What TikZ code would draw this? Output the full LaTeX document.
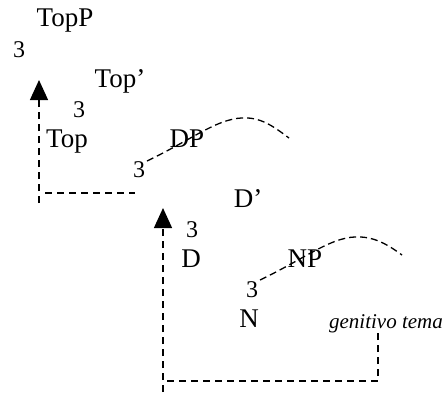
\documentclass[tikz,border=0pt]{standalone}
\usepackage{fontspec}
\setmainfont{Liberation Serif}
\usetikzlibrary{arrows.meta}
\begin{document}
\begin{tikzpicture}[x=1pt,y=-1pt,
  lbl/.style={inner sep=0pt,anchor=base,font=\fontsize{27}{32}\selectfont},
  tri/.style={inner sep=0pt,anchor=base,font=\fontsize{24}{28}\selectfont},
  gen/.style={inner sep=0pt,anchor=base,font=\fontsize{21}{25}\selectfont\itshape},
  dline/.style={line width=1.3pt,dash pattern=on 7pt off 5pt},
  cline/.style={line width=1.3pt,dash pattern=on 7pt off 4pt},
  arr/.style={-{Triangle[width=18pt,length=20pt]}}]
\useasboundingbox (0,0) rectangle (443,392);
% labels
\node[lbl] (topp) at (65,26) {TopP};
\node[tri] (t1) at (19,57) {3};
\node[lbl] (topbar) at (120,87) {Top’};
\node[tri] (t2) at (79,117) {3};
\node[lbl] (top) at (67,147) {Top};
\node[lbl] (dp) at (187,147) {DP};
\node[tri] (t3) at (139,177) {3};
\node[lbl] (dbar) at (248,207) {D’};
\node[tri] (t4) at (192,237) {3};
\node[lbl] (d) at (191,267) {D};
\node[lbl] (np) at (305,267) {NP};
\node[tri] (t5) at (252,297) {3};
\node[lbl] (n) at (249,327) {N};
\node[gen] (gt) at (386,328) {genitivo tema};
% movement 1
\coordinate (a1b) at (39,203);
\coordinate (a1t) at (39,80);
\coordinate (h1a) at (45,193);
\coordinate (h1b) at (135,193);
\draw[dline,arr] (a1b) -- (a1t);
\draw[dline] (h1a) -- (h1b);
% movement 2
\coordinate (a2b) at (163,392);
\coordinate (a2t) at (163,208);
\coordinate (h2a) at (167,381);
\coordinate (h2b) at (378,381);
\coordinate (h2c) at (378,333);
\draw[dline,arr] (a2b) -- (a2t);
\draw[dline] (h2a) -- (h2b) -- (h2c);
% curves
\coordinate (c1s) at (147,161);
\coordinate (c1p) at (248,118);
\coordinate (c1e) at (289,138);
\draw[cline] (c1s) .. controls (195,138) and (220,116) .. (c1p)
  .. controls (265,119) and (278,130) .. (c1e);
\coordinate (c2s) at (260,280);
\coordinate (c2p) at (361,237);
\coordinate (c2e) at (402,255);
\draw[cline] (c2s) .. controls (308,257) and (333,235) .. (c2p)
  .. controls (378,238) and (391,247) .. (c2e);
\end{tikzpicture}
\end{document}
